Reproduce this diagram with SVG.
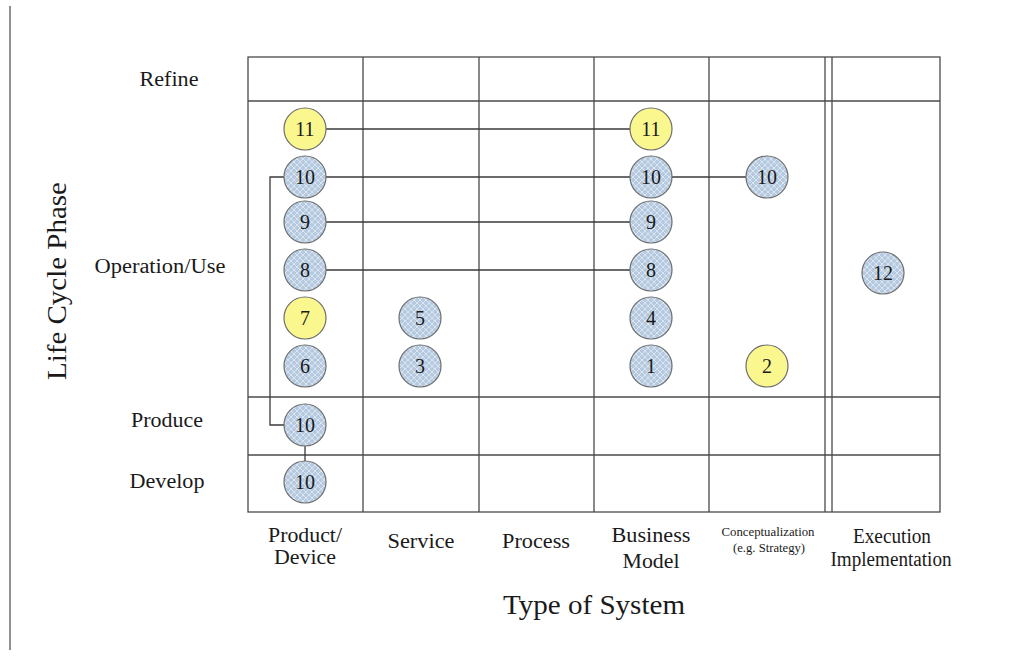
<svg xmlns="http://www.w3.org/2000/svg" width="1013" height="660" viewBox="0 0 1013 660">
<style>
.grid{stroke:#4a4a4a;stroke-width:1.3;fill:none}
.c{stroke:#6d6d6d;stroke-width:1.2}
.b{fill:url(#hatch)}
.y{fill:#fbf78f}
.n{font-family:"Liberation Serif",serif;font-size:20px;fill:#1a1a1a;text-anchor:middle;dominant-baseline:central}
.lbl{font-family:"Liberation Serif",serif;font-size:20px;fill:#1a1a1a;text-anchor:middle}
.conn{stroke:#3a3a3a;stroke-width:1.3;fill:none}
</style>
<defs>
<pattern id="hatch" width="6" height="6" patternUnits="userSpaceOnUse">
<rect width="6" height="6" fill="#b5cae0"/>
<path d="M0 0L6 6M6 0L0 6" stroke="#dfe8f2" stroke-width="0.9"/>
</pattern>
</defs>
<rect width="1013" height="660" fill="#fff"/>
<line x1="10" y1="6" x2="10" y2="650" stroke="#555" stroke-width="1.3"/>
<g id="grid">
<rect class="grid" x="248" y="57" width="692" height="455"/>
<line class="grid" x1="248" y1="101" x2="940" y2="101"/>
<line class="grid" x1="248" y1="397" x2="940" y2="397"/>
<line class="grid" x1="248" y1="455" x2="940" y2="455"/>
<line class="grid" x1="363" y1="57" x2="363" y2="512"/>
<line class="grid" x1="479" y1="57" x2="479" y2="512"/>
<line class="grid" x1="594" y1="57" x2="594" y2="512"/>
<line class="grid" x1="709" y1="57" x2="709" y2="512"/>
<line class="grid" x1="825" y1="57" x2="825" y2="512"/>
<line class="grid" x1="832" y1="57" x2="832" y2="512"/>
</g>
<g id="labels">
<text class="lbl" x="169" y="86" textLength="59" lengthAdjust="spacingAndGlyphs">Refine</text>
<text class="lbl" x="160" y="273" textLength="131" lengthAdjust="spacingAndGlyphs">Operation/Use</text>
<text class="lbl" x="167" y="427" textLength="72" lengthAdjust="spacingAndGlyphs">Produce</text>
<text class="lbl" x="167" y="488" textLength="75" lengthAdjust="spacingAndGlyphs">Develop</text>
<text font-family="Liberation Serif,serif" font-size="28" fill="#1a1a1a" text-anchor="middle" transform="translate(66,281) rotate(-90)" textLength="198" lengthAdjust="spacingAndGlyphs">Life Cycle Phase</text>
<text class="lbl" x="305" y="542" textLength="74" lengthAdjust="spacingAndGlyphs">Product/</text>
<text class="lbl" x="305" y="564" textLength="62" lengthAdjust="spacingAndGlyphs">Device</text>
<text class="lbl" x="421" y="548" textLength="67" lengthAdjust="spacingAndGlyphs">Service</text>
<text class="lbl" x="536" y="548" textLength="68" lengthAdjust="spacingAndGlyphs">Process</text>
<text class="lbl" x="651" y="542" textLength="79" lengthAdjust="spacingAndGlyphs">Business</text>
<text class="lbl" x="651" y="568" textLength="57" lengthAdjust="spacingAndGlyphs">Model</text>
<text x="768" y="536" font-family="Liberation Serif,serif" font-size="12" fill="#1a1a1a" text-anchor="middle" textLength="93" lengthAdjust="spacingAndGlyphs">Conceptualization</text>
<text x="769" y="552" font-family="Liberation Serif,serif" font-size="12" fill="#1a1a1a" text-anchor="middle" textLength="72" lengthAdjust="spacingAndGlyphs">(e.g. Strategy)</text>
<text class="lbl" x="892" y="543" textLength="78" lengthAdjust="spacingAndGlyphs">Execution</text>
<text class="lbl" x="891" y="566" textLength="121" lengthAdjust="spacingAndGlyphs">Implementation</text>
<text x="594" y="614" font-family="Liberation Serif,serif" font-size="27" fill="#1a1a1a" text-anchor="middle" textLength="182" lengthAdjust="spacingAndGlyphs">Type of System</text>
</g>
<g id="connectors">
<line class="conn" x1="326" y1="129" x2="630" y2="129"/>
<line class="conn" x1="326" y1="177" x2="630" y2="177"/>
<line class="conn" x1="672" y1="177" x2="746" y2="177"/>
<line class="conn" x1="326" y1="222" x2="630" y2="222"/>
<line class="conn" x1="326" y1="270" x2="630" y2="270"/>
<polyline class="conn" points="284,177 270,177 270,425 284,425"/>
<line class="conn" x1="305" y1="446" x2="305" y2="461"/>
</g>
<g id="n11a"><circle class="c y" cx="305" cy="129" r="21"/><text class="n" x="305" y="129">11</text></g>
<g id="n10a"><circle class="c b" cx="305" cy="177" r="21"/><text class="n" x="305" y="177">10</text></g>
<g id="n9a"><circle class="c b" cx="305" cy="222" r="21"/><text class="n" x="305" y="222">9</text></g>
<g id="n8a"><circle class="c b" cx="305" cy="270" r="21"/><text class="n" x="305" y="270">8</text></g>
<g id="n7"><circle class="c y" cx="305" cy="318" r="21"/><text class="n" x="305" y="318">7</text></g>
<g id="n6"><circle class="c b" cx="305" cy="366" r="21"/><text class="n" x="305" y="366">6</text></g>
<g id="n10p"><circle class="c b" cx="305" cy="425" r="21"/><text class="n" x="305" y="425">10</text></g>
<g id="n10d"><circle class="c b" cx="305" cy="482" r="21"/><text class="n" x="305" y="482">10</text></g>
<g id="n5"><circle class="c b" cx="420" cy="318" r="21"/><text class="n" x="420" y="318">5</text></g>
<g id="n3"><circle class="c b" cx="420" cy="366" r="21"/><text class="n" x="420" y="366">3</text></g>
<g id="n11b"><circle class="c y" cx="651" cy="129" r="21"/><text class="n" x="651" y="129">11</text></g>
<g id="n10b"><circle class="c b" cx="651" cy="177" r="21"/><text class="n" x="651" y="177">10</text></g>
<g id="n9b"><circle class="c b" cx="651" cy="222" r="21"/><text class="n" x="651" y="222">9</text></g>
<g id="n8b"><circle class="c b" cx="651" cy="270" r="21"/><text class="n" x="651" y="270">8</text></g>
<g id="n4"><circle class="c b" cx="651" cy="318" r="21"/><text class="n" x="651" y="318">4</text></g>
<g id="n1"><circle class="c b" cx="651" cy="366" r="21"/><text class="n" x="651" y="366">1</text></g>
<g id="n10c"><circle class="c b" cx="767" cy="177" r="21"/><text class="n" x="767" y="177">10</text></g>
<g id="n2"><circle class="c y" cx="767" cy="366" r="21"/><text class="n" x="767" y="366">2</text></g>
<g id="n12"><circle class="c b" cx="883" cy="273" r="21"/><text class="n" x="883" y="273">12</text></g>
</svg>
